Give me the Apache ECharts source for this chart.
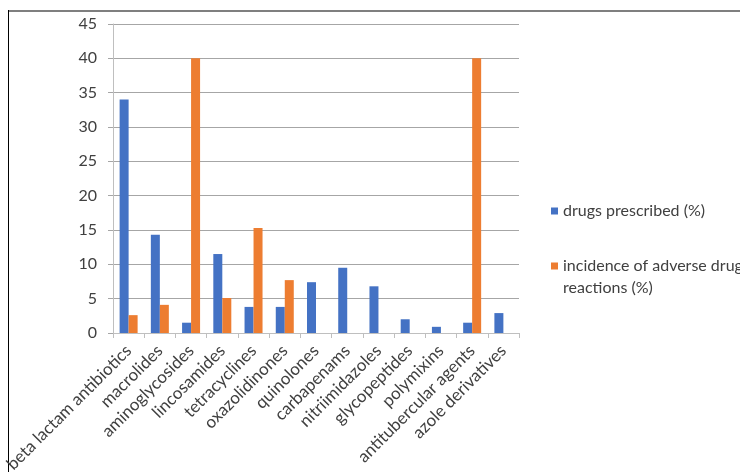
<!DOCTYPE html>
<html>
<head>
<meta charset="utf-8">
<script src="https://cdn.jsdelivr.net/npm/echarts@6/dist/echarts.min.js"></script>
<style>
  html, body { margin: 0; padding: 0; background: #fff; }
  #chart { width: 740px; height: 472px; }
</style>
</head>
<body>
<div id="chart"></div>
<script>
// Antibiotic classes on the category axis
const categories = [
  'beta lactam antibiotics', 'macrolides', 'aminoglycosides', 'lincosamides',
  'tetracyclines', 'oxazolidinones', 'quinolones', 'carbapenams',
  'nitriimidazoles', 'glycopeptides', 'polymixins', 'antitubercular agents',
  'azole derivatives'
];

// Share of prescriptions per class (%)
const drugsPrescribed = [34, 14.3, 1.5, 11.5, 3.8, 3.8, 7.4, 9.5, 6.8, 2.0, 0.9, 1.5, 2.9];

// Share of adverse drug reactions per class (%), null where none were reported
const adverseReactions = [2.6, 4.1, 40, 5.1, 15.3, 7.7, null, null, null, null, null, 40, null];

// Value axis ticks
const yTicks = [0, 5, 10, 15, 20, 25, 30, 35, 40, 45];

const seriesNames = ['drugs prescribed (%)', 'incidence of adverse drug reactions (%)'];

const FONT = 'Lato, "Open Sans", sans-serif';
const TEXT = '#404040';

const chart = echarts.init(document.getElementById('chart'));
chart.setOption({
  animation: false,
  backgroundColor: '#fff',
  textStyle: { fontFamily: FONT },
  // fixed plot box; long rotated labels may run past the page edge
  grid: { left: 113, right: 221, top: 24, bottom: 139, containLabel: false, outerBoundsMode: 'none' },
  legend: {
    orient: 'vertical',
    left: 546,
    top: 195,
    itemWidth: 7,
    itemHeight: 7,
    itemGap: 11,
    icon: 'rect',
    selectedMode: false,
    textStyle: { fontSize: 16, color: TEXT, fontFamily: FONT, lineHeight: 22 },
    // the long name wraps; a leading blank line keeps its first line level with the swatch
    formatter: function (name) {
      return name === seriesNames[1] ? '\nincidence of adverse drug\nreactions (%)' : name;
    },
    data: seriesNames
  },
  xAxis: {
    type: 'category',
    data: categories,
    axisLine: { show: true, lineStyle: { color: '#bfbfbf', width: 1 } },
    axisTick: { show: true, length: 5, lineStyle: { color: '#bfbfbf' } },
    axisLabel: {
      interval: 0,
      rotate: 45,
      fontSize: 17,
      color: TEXT,
      fontFamily: FONT,
      margin: 15
    }
  },
  yAxis: {
    type: 'value',
    min: yTicks[0],
    max: yTicks[yTicks.length - 1],
    interval: yTicks[1] - yTicks[0],
    axisLine: { show: true, lineStyle: { color: '#bfbfbf', width: 1 } },
    axisTick: { show: true, length: 5, lineStyle: { color: '#a6a6a6' } },
    axisLabel: { fontSize: 16, color: TEXT, fontFamily: FONT, margin: 16 },
    splitLine: { show: true, lineStyle: { color: '#a6a6a6', width: 1 } }
  },
  series: [
    {
      name: seriesNames[0],
      type: 'bar',
      data: drugsPrescribed,
      barWidth: 9,
      barGap: '0%',
      itemStyle: { color: '#4472C4' }
    },
    {
      name: seriesNames[1],
      type: 'bar',
      data: adverseReactions,
      barWidth: 9,
      barGap: '0%',
      itemStyle: { color: '#ED7D31' }
    }
  ],
  graphic: [
    {
      type: 'line',
      shape: { x1: 8, y1: 11, x2: 740, y2: 11 },
      style: { stroke: '#7f7f7f', lineWidth: 2 },
      silent: true
    },
    {
      type: 'line',
      shape: { x1: 8.5, y1: 10, x2: 8.5, y2: 472 },
      style: { stroke: '#000', lineWidth: 1 },
      silent: true
    }
  ]
});
</script>
</body>
</html>
